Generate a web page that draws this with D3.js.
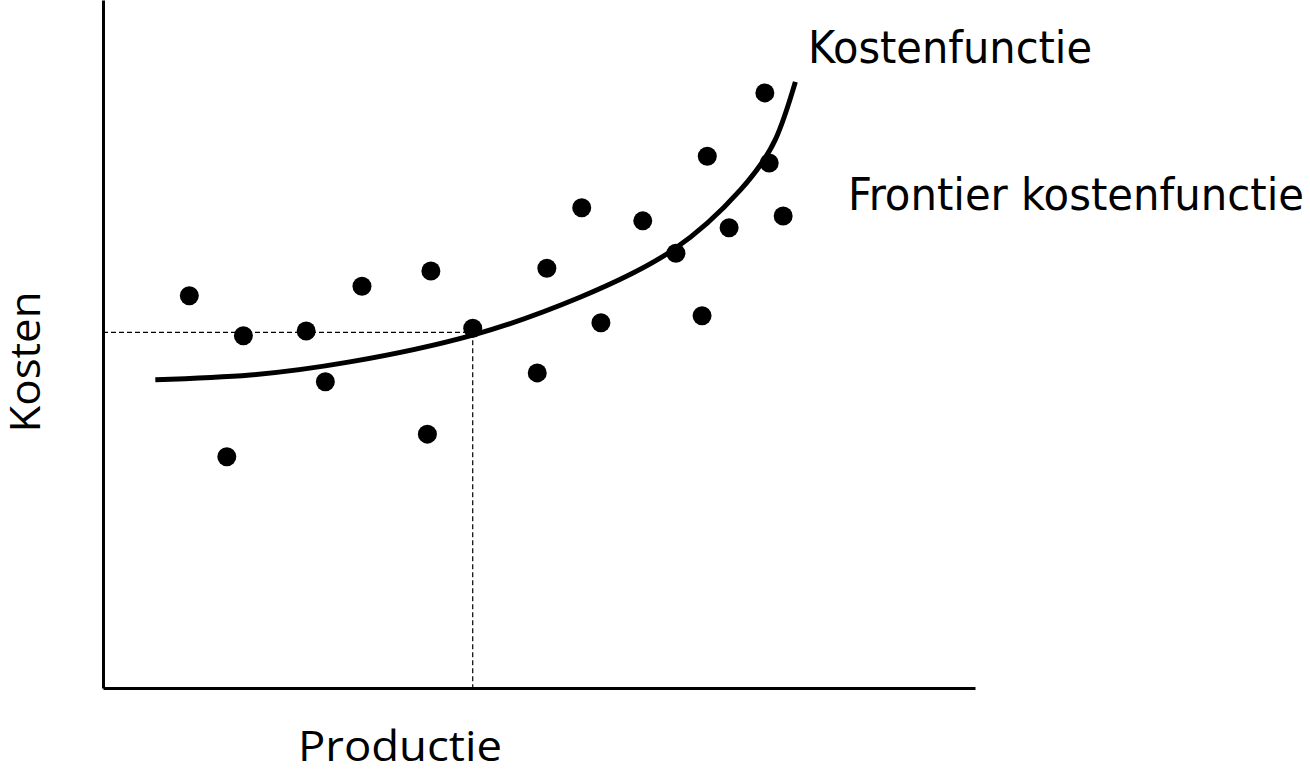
<!doctype html>
<html lang="nl">
<head>
  <meta charset="utf-8">
  <title>Kostenfunctie</title>
  <script src="https://cdnjs.cloudflare.com/ajax/libs/d3/7.8.5/d3.min.js"></script>
  <style>
    body{ margin:0; background:#fff; }
    svg{ display:block; }
    .axis path{ stroke:#000; stroke-width:3px; }
    .guide{ stroke:#000; stroke-width:1.2px; stroke-dasharray:5,3; fill:none; }
    .curve{ stroke:#000; stroke-width:5px; fill:none; }
    .lbl-right{ font-family:"DejaVu Sans Condensed","DejaVu Sans",sans-serif; font-size:45px; fill:#000; }
    .lbl-axis{ font-family:"Open Sans",sans-serif; font-size:42px; fill:#000; }
  </style>
</head>
<body>
  <svg width="1310" height="774"></svg>
  <script>
  // observed firms (productie, kosten)
  const prodX=[9.9,16.1,14.2,23.3,25.5,29.7,37.6,37.2,42.4,49.8,50.9,57.1,54.9,61.9,65.7,68.7,69.3,71.8,75.9,76.4,78.0];
  const kostY=[57.0,51.2,33.6,51.9,44.5,58.4,60.6,36.9,52.3,45.8,61.0,53.1,69.8,67.9,63.2,54.1,77.3,66.9,86.5,76.3,68.6];

  // kostenfunctie
  const curveX=[6.0,16.9,28.3,42.4,54.7,65.4,73.1,77.1,79.4];
  const curveY=[44.8,45.5,47.4,51.3,56.8,63.7,72.4,79.7,88.1];

  // the firm marked with guide lines
  const refPoint={x:42.4, y:51.7};

  const labels=["Kostenfunctie","Frontier kostenfunctie"];

  const svg=d3.select("svg");

  const xScale=d3.scaleLinear().domain([0,100]).range([103,975]);
  const yScale=d3.scaleLinear().domain([0,100]).range([688,0]);

  // guide lines
  svg.append("line").attr("class","guide")
    .attr("x1",xScale(0)).attr("x2",xScale(refPoint.x))
    .attr("y1",yScale(refPoint.y)).attr("y2",yScale(refPoint.y));
  svg.append("line").attr("class","guide")
    .attr("x1",xScale(refPoint.x)).attr("x2",xScale(refPoint.x))
    .attr("y1",yScale(refPoint.y)).attr("y2",yScale(0));

  // axes without ticks
  svg.append("g").attr("class","axis")
    .attr("transform",`translate(0,${yScale(0)})`)
    .call(d3.axisBottom(xScale).ticks(0).tickSizeOuter(0));
  svg.append("g").attr("class","axis")
    .attr("transform",`translate(${xScale(0)},0)`)
    .call(d3.axisLeft(yScale).ticks(0).tickSizeOuter(0));

  // curve
  const curveData=curveX.map((x,i)=>({x:x,y:curveY[i]}));
  const line=d3.line()
    .x(d=>xScale(d.x))
    .y(d=>yScale(d.y))
    .curve(d3.curveNatural);
  svg.append("path").attr("class","curve").attr("d",line(curveData));

  // dots
  const dots=prodX.map((x,i)=>({x:x,y:kostY[i]}));
  svg.append("g").selectAll("circle")
    .data(dots)
    .enter()
    .append("circle")
    .attr("cx",d=>xScale(d.x))
    .attr("cy",d=>yScale(d.y))
    .attr("r",9.5)
    .style("fill","#000");

  // labels
  svg.append("text").attr("class","lbl-right")
    .attr("x",808).attr("y",63)
    .attr("textLength",284).attr("lengthAdjust","spacingAndGlyphs")
    .text(labels[0]);
  svg.append("text").attr("class","lbl-right")
    .attr("x",848).attr("y",210)
    .attr("textLength",456).attr("lengthAdjust","spacingAndGlyphs")
    .text(labels[1]);

  svg.append("text").attr("class","lbl-axis")
    .attr("x",400).attr("y",761)
    .attr("text-anchor","middle")
    .attr("textLength",204).attr("lengthAdjust","spacingAndGlyphs")
    .text("Productie");
  svg.append("text").attr("class","lbl-axis")
    .attr("transform","translate(40,362) rotate(-90)")
    .attr("text-anchor","middle")
    .attr("textLength",141).attr("lengthAdjust","spacingAndGlyphs")
    .text("Kosten");
  </script>
</body>
</html>
